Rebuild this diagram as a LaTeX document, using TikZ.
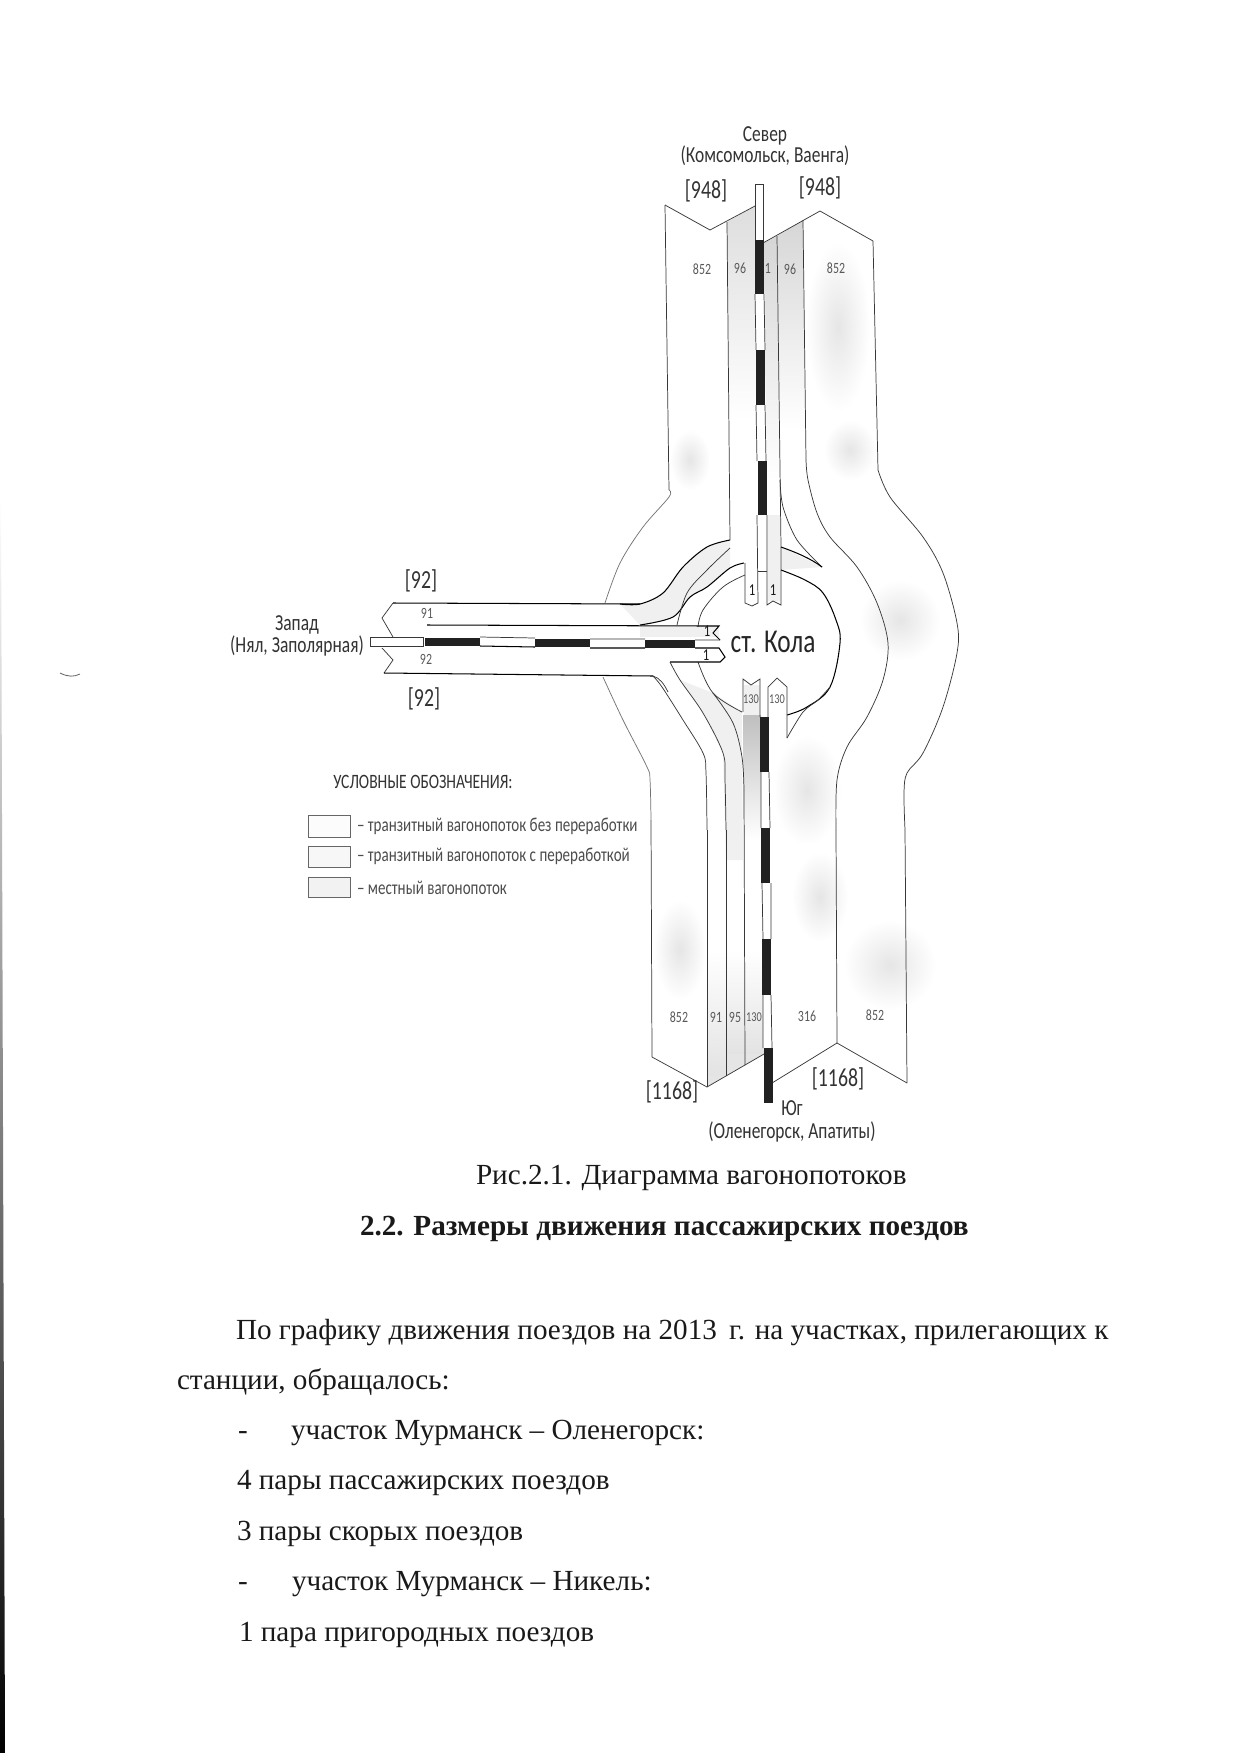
\documentclass[tikz,border=0pt]{standalone}
\usepackage{fontspec}
\setmainfont{Liberation Serif}
\newfontfamily\cad[FakeStretch=0.76]{Carlito}
\usetikzlibrary{shapes.geometric}
\definecolor{ink}{gray}{0.22}
\definecolor{bar}{gray}{0.13}
\tikzset{
  every node/.style={inner sep=0pt,outer sep=0pt},
  lane/.style={draw=ink,line width=0.35pt},
  strong/.style={draw=black,line width=0.5pt},
  faint/.style={draw=black!55,line width=0.35pt},
  blackbar/.style={fill=bar,draw=none},
  whitebar/.style={fill=white,draw=ink,line width=0.3pt},
  patch/.style={fill=black!6,draw=none},
  blur/.style={inner color=black!10,outer color=white,draw=none},
  fadedown/.style={top color=black!13,bottom color=white,draw=none},
  fadeup/.style={top color=white,bottom color=black!11,draw=none},
  fadewest/.style={left color=white,middle color=black!22,right color=white,draw=none},
  fadewesttwo/.style={left color=white,middle color=black!9,right color=white,draw=none},
  lbl/.style={font=\cad\fontsize{7.5}{8}\selectfont,text=black!65},
  lblk/.style={font=\cad\fontsize{8}{9}\selectfont,text=black!90},
  big/.style={font=\cad\fontsize{12.5}{13}\selectfont,text=black!80},
  ttl/.style={font=\cad\fontsize{11}{12}\selectfont,text=black!80},
  leg/.style={font=\cad\fontsize{9.5}{10}\selectfont,text=black!70,anchor=west},
  legbox/.style={draw=black!60,line width=0.35pt,fill=black!1},
  body/.style={font=\fontsize{14}{16}\selectfont,anchor=base west,text=black!90},
}
\begin{document}
\begin{tikzpicture}[x=0.48pt,y=-0.48pt]
\useasboundingbox (0,0) rectangle (1240,1753);
\fill[white] (0,0) rectangle (1240,1753);
% scan edge
\shade[top color=white,middle color=black!70,bottom color=black] (0,500) -- (1,500) -- (5,1753) -- (0,1753) -- cycle;
\draw[black!60,line width=0.4pt] (60,673) .. controls (68,677) and (74,677) .. (80,674);
%
% ===== blurred tone of the scan =====
\shade[blur] (820,897) ellipse (28 and 45);
\shade[blur] (807,790) ellipse (34 and 55);
\shade[blur] (890,965) ellipse (46 and 45);
\shade[blur] (680,950) ellipse (26 and 50);
\shade[blur] (838,327) ellipse (32 and 85);
\shade[blur] (690,460) ellipse (20 and 30);
\shade[blur] (850,450) ellipse (26 and 30);
\shade[blur] (900,620) ellipse (40 and 40);
% grey tone of the streams
\shade[fadedown] (727,222) -- (755,206) -- (757,420) -- (729,420) -- cycle;
\shade[top color=black!16,bottom color=white] (763,243) -- (777,236) -- (781,480) -- (767,480) -- cycle;
\shade[top color=black!16,bottom color=white] (777,236) -- (803,220) -- (805,430) -- (779,430) -- cycle;
\shade[fadewesttwo] (423,604) rectangle (600,625);
\shade[fadewest] (430,627) rectangle (640,637);
\fill[patch] (640,627) rectangle (719,637);
\shade[fadewesttwo] (423,648) rectangle (620,674);
\fill[patch] plot[smooth,tension=0.55] coordinates {(730,540) (707,547) (683,567) (663,593) (640,604) (620,604)} -- (640,625) -- plot[smooth,tension=0.55] coordinates {(640,625) (673,617) (690,597) (707,587) (730,568)} -- cycle;
\fill[patch] (781,547) -- (822,567) -- (781,570) -- cycle;
\fill[patch] (742,712) -- (713,693) -- (680,680) -- (703,713) -- (723,753) -- (726,860) -- (743,860) -- (742,757) -- cycle;
\shade[top color=black!25,bottom color=white] (743,715) rectangle (761,840);
\fill[patch] (744,685) rectangle (760,715);
\shade[fadeup] (726,950) rectangle (764,1054);
\fill[black!10] (726,1054) -- (764,1054) -- (745,1065) -- (726,1076) -- cycle;
\shade[fadeup] (707,950) rectangle (726,1076);
\fill[black!10] (707,1076) -- (726,1076) -- (707,1087) -- cycle;
%
% ===== north arm =====
\draw[lane] (665,205) -- (710,230) -- (755,206);
\draw[lane] (763,243) -- (820,211) -- (873,241);
\draw[lane] (665,205) -- (669,490);
\draw[lane] (727,222) -- (730,540);
\draw[lane] (777,236) -- (781,547);
\draw[lane] (803,220) -- (806,460);
\draw[lane] (873,241) -- (878,470);
% band north
\draw[whitebar] (755,184) -- (763,184) -- (763,240) -- (755,240) -- cycle;
\fill[white] (755,294) rectangle (765,350) (756,405) rectangle (766,461);
\draw[lane] (755,294) -- (756,350) (764,294) -- (765,350);
\draw[lane] (756,405) -- (757,461) (765,405) -- (766,461);
\fill[blackbar] (755,240) rectangle (764,294);
\fill[blackbar] (756,350) rectangle (765,405);
\fill[blackbar] (758,461) rectangle (767,515);
\fill[patch] (768,515) rectangle (780,601);
% lanes "1"
\draw[lane] (757,515) -- (758,603) -- (752,606) -- (745,603) -- (745,563);
\draw[lane] (767,515) -- (767,605) -- (773,601) -- (781,605) -- (781,547);
\draw[lane] (758,571) -- (767,571);
%
% ===== right side outer edges =====
\draw[lane] plot[smooth,tension=0.55] coordinates {(878,470) (890,497) (923,537) (943,573) (957,623) (957,653) (943,707) (923,753) (907,773) (904,793) (905,830)};
\draw[lane] (905,830) -- (907,1083);
\draw[lane] plot[smooth,tension=0.55] coordinates {(806,460) (808,480) (817,513) (830,537) (857,567) (877,603) (888,643) (883,680) (867,717) (847,747) (837,780) (836,830)};
\draw[lane] (836,830) -- (837,1043);
% spur of inner right lane
\draw[lane] plot[smooth,tension=0.5] coordinates {(780,480) (783,507) (797,540) (822,567)};
\draw[strong] (781,547) .. controls (795,552) and (810,558) .. (822,567);
% station ring (right)
\draw[strong] plot[smooth,tension=0.6] coordinates {(781,570) (805,580) (823,593) (836,620) (840,643) (830,687) (807,707) (787,715)};
\draw[lane] plot[smooth,tension=0.5] coordinates {(787,738) (803,712) (818,700) (830,687)};
% station ring (left)
\draw[lane] plot[smooth,tension=0.6] coordinates {(745,575) (723,587) (703,610) (698,627)};
\draw[lane] plot[smooth,tension=0.6] coordinates {(698,662) (713,693) (742,712)};
%
% ===== left outer edge =====
\draw[faint] plot[smooth,tension=0.55] coordinates {(669,490) (669,497) (643,527) (620,563) (605,603)};
\draw[faint] plot[smooth,tension=0.55] coordinates {(603,677) (623,720) (647,767) (650,780) (651,820)};
\draw[lane] (651,820) -- (652,1057);
%
% ===== curves from north lanes to west =====
\draw[strong] plot[smooth,tension=0.55] coordinates {(730,540) (707,547) (683,567) (663,593) (640,604) (620,604)};
\draw[strong] plot[smooth,tension=0.55] coordinates {(744,563) (730,568) (707,587) (690,597) (673,617) (640,625)};
\draw[lane] plot[smooth,tension=0.55] coordinates {(730,548) (707,570) (687,593) (677,625)};
%
% ===== west arm =====
\draw[strong] (393,603) -- (640,604);
\draw[strong] (427,625) -- (705,626) -- (719,626) -- (713,633) -- (720,640);
\draw[lane] (393,603) -- (382,618) -- (393,637);
\draw[lane] (382,648) -- (393,660) -- (384,673);
\draw[strong] (384,673) -- (653,676);
\draw[lane] (653,676) .. controls (660,678) and (664,684) .. (668,692);
\draw[strong] (695,648) -- (719,648) -- (725,657) -- (720,662) -- (670,662);
% band west
\draw[whitebar] (370,637) rectangle (423,646);
\draw[strong] (480,646) -- (535,647) (590,648) -- (645,648);
\draw[lane] (480,637) -- (535,638) (590,639) -- (645,639) (695,640) -- (720,640);
\fill[blackbar] (425,638) rectangle (480,646);
\fill[blackbar] (535,639) rectangle (590,647);
\fill[blackbar] (645,640) rectangle (695,648);
%
% ===== lower-left curves =====
\draw[lane] plot[smooth,tension=0.55] coordinates {(653,676) (662,687) (683,720) (703,753) (706,773) (707,830)};
\draw[lane] (707,830) -- (707,1087);
\draw[lane] plot[smooth,tension=0.55] coordinates {(670,662) (680,680) (703,713) (723,753) (725,780) (726,830)};
\draw[lane] (726,830) -- (726,1076);
\draw[lane] plot[smooth,tension=0.55] coordinates {(713,693) (733,723) (742,757) (744,790)};
\draw[lane] (744,790) -- (745,1065);
%
% ===== south lanes =====
\draw[lane] (743,712) -- (743,679) -- (751,685) -- (760,679) -- (760,717);
\draw[lane] (768,717) -- (768,687) -- (777,678) -- (787,687) -- (787,738);
\draw[lane] (652,1057) -- (707,1087) -- (764,1054);
\draw[lane] (772,1083) -- (837,1043) -- (907,1083);
\fill[white] (761,772) rectangle (769,828) (762,883) rectangle (771,939) (763,995) rectangle (772,1048);
\draw[lane] (761,772) -- (761,828) (769,772) -- (770,828);
\draw[lane] (762,883) -- (763,939) (771,883) -- (771,939);
\draw[lane] (763,995) -- (763,1048) (771,995) -- (772,1048);
\fill[blackbar] (760,717) rectangle (769,772);
\fill[blackbar] (761,828) rectangle (770,883);
\fill[blackbar] (762,939) rectangle (771,995);
\fill[blackbar] (764,1048) rectangle (773,1103);
%
% ===== numbers =====
\node[lbl] (n1) at (702,269) {852};
\node[lbl] (n2) at (740,268) {96};
\node[lbl] (n3) at (768,268) {1};
\node[lbl] (n4) at (790,269) {96};
\node[lbl] (n5) at (836,268) {852};
\node[lblk] (n6) at (752,590) {1};
\node[lblk] (n7) at (773,590) {1};
\node[lbl,font=\cad\fontsize{6.5}{7}\selectfont] (n8) at (751,699) {130};
\node[lbl,font=\cad\fontsize{6.5}{7}\selectfont] (n9) at (777,699) {130};
\node[lbl] (n10) at (427,613) {91};
\node[lbl] (n11) at (426,659) {92};
\node[lblk] (n12) at (707,631) {1};
\node[lblk] (n13) at (706,655) {1};
\node[lbl] (s1) at (679,1017) {852};
\node[lbl] (s2) at (716,1017) {91};
\node[lbl] (s3) at (735,1017) {95};
\node[lbl,font=\cad\fontsize{6.5}{7}\selectfont] (s4) at (754,1017) {130};
\node[lbl] (s5) at (807,1016) {316};
\node[lbl] (s6) at (875,1015) {852};
\node[big] (t1) at (706,191) {[948]};
\node[big] (t2) at (820,188) {[948]};
\node[big] (t3) at (421,581) {[92]};
\node[big] (t4) at (424,699) {[92]};
\node[big] (t5) at (672,1092) {[1168]};
\node[big] (t6) at (838,1079) {[1168]};
\node[ttl] (d1) at (765,136) {Север};
\node[ttl] (d2) at (765,156) {(Комсомольск, Ваенга)};
\node[ttl] (d3) at (297,625) {Запад};
\node[ttl] (d4) at (297,646) {(Нял, Заполярная)};
\node[ttl] (d5) at (792,1108) {Юг};
\node[ttl] (d6) at (792,1132) {(Оленегорск, Апатиты)};
\node[font=\cad\fontsize{16}{17}\selectfont,text=black!85] (st) at (773,642) {ст. Кола};
%
% ===== legend =====
\node[ttl,font=\cad\fontsize{9.8}{11}\selectfont] (lt) at (423,782) {УСЛОВНЫЕ ОБОЗНАЧЕНИЯ:};
\draw[legbox] (308,815) rectangle (350,837);
\draw[legbox,fill=black!3] (308,846) rectangle (350,867);
\draw[legbox,fill=black!5] (308,877) rectangle (350,897);
\node[leg] (l1) at (357,826) {– транзитный вагонопоток без переработки};
\node[leg] (l2) at (357,856) {– транзитный вагонопоток с переработкой};
\node[leg] (l3) at (357,888) {– местный вагонопоток};
%
% ===== text below =====
\node[body] (c1) at (476,1184) {Рис.2.1. Диаграмма вагонопотоков};
\node[body,font=\bfseries\fontsize{14}{16}\selectfont] (c2) at (360,1235) {2.2. Размеры движения пассажирских поездов};
\node[body] (p1) at (236,1339) {По графику движения поездов на 2013\, г. на участках, прилегающих к};
\node[body] (p2) at (177,1389) {станции, обращалось:};
\node[body] (p3a) at (238,1439) {-};
\node[body] (p3) at (291,1439) {участок Мурманск – Оленегорск:};
\node[body] (p4) at (237,1489) {4 пары пассажирских поездов};
\node[body] (p5) at (237,1540) {3 пары скорых поездов};
\node[body] (p6a) at (238,1590) {-};
\node[body] (p6) at (292,1590) {участок Мурманск – Никель:};
\node[body] (p7) at (239,1641) {1 пара пригородных поездов};
\end{tikzpicture}
\end{document}
